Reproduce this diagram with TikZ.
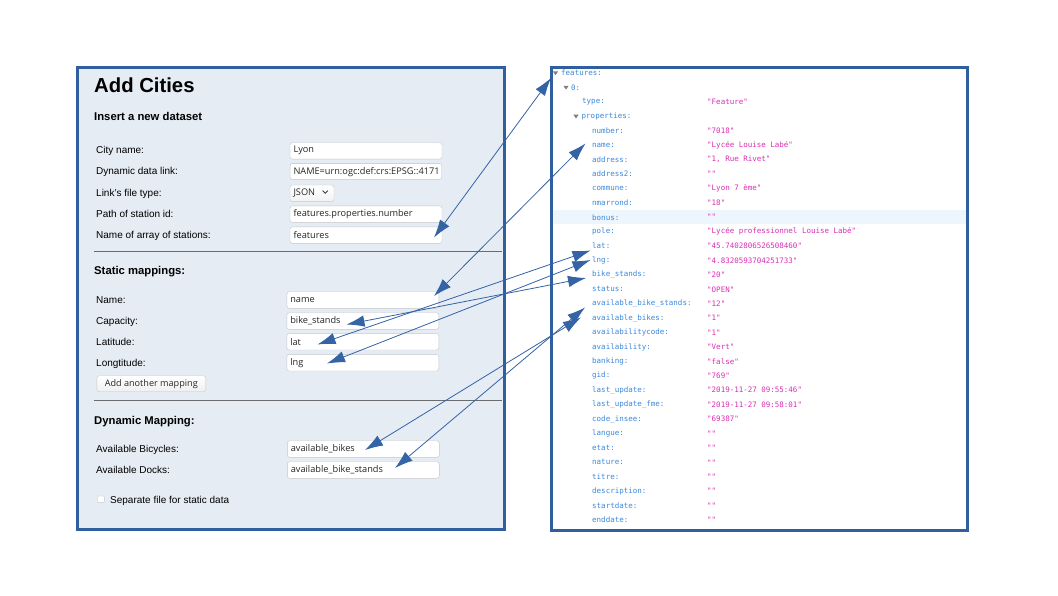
\documentclass[tikz,border=0pt]{standalone}
\usepackage{fontspec}
\setmainfont{Liberation Sans}
\newfontfamily\fieldfont{Open Sans}
\newfontfamily\jsonfont{DejaVu Sans Mono}
\usetikzlibrary{arrows.meta}
\definecolor{frameblue}{HTML}{2F5F9F}
\definecolor{arrowblue}{HTML}{3463A6}
\definecolor{panelbg}{HTML}{E5ECF3}
\definecolor{fieldborder}{HTML}{C4C7CB}
\definecolor{sepgray}{HTML}{6A6C70}
\definecolor{jkey}{HTML}{3A88DC}
\definecolor{jval}{HTML}{D92FB4}
\definecolor{jtri}{HTML}{808080}
\definecolor{rowhl}{HTML}{EEF6FD}
\tikzset{
  panel/.style={draw=frameblue, line width=3pt, anchor=north west, inner sep=0pt, outer sep=0pt},
  lbl/.style={anchor=base west, inner sep=0pt, font=\fontsize{10}{12}\selectfont},
  head/.style={anchor=base west, inner sep=0pt, font=\bfseries\fontsize{11.3}{13}\selectfont},
  field/.style={draw=fieldborder, fill=white, rounded corners=2.5pt, anchor=north west, outer sep=0pt,
    inner xsep=3.5pt, inner ysep=0pt, text width=145pt, minimum height=16.6pt, align=left,
    font=\fieldfont\fontsize{9.2}{11}\selectfont, text=black!85},
  btn/.style={draw=fieldborder, top color=white, bottom color=gray!12, rounded corners=2.5pt,
    anchor=north west, inner sep=0pt, outer sep=0pt, minimum width=109pt, minimum height=16pt,
    font=\fieldfont\fontsize{9.1}{11}\selectfont, text=black!85},
  sepline/.style={draw=sepgray, line width=1.3pt},
  jk/.style={anchor=west, inner sep=0pt, font=\jsonfont\fontsize{7.5}{9}\selectfont, text=jkey},
  jv/.style={anchor=west, inner sep=0pt, font=\jsonfont\fontsize{7.5}{9}\selectfont, text=jval},
  link/.style={draw=arrowblue, line width=0.8pt,
    {Latex[length=18pt,width=11.5pt]}-{Latex[length=18pt,width=11.5pt]}},
}
\newcommand{\jtriangle}[2]{\fill[jtri] (#1-2.6,#2-1.6) -- (#1+2.6,#2-1.6) -- (#1,#2+2.2) -- cycle;}
\begin{document}
\begin{tikzpicture}[x=1pt,y=-1pt]
\useasboundingbox (0,0) rectangle (1058,595);
\fill[white] (0,0) rectangle (1058,595);

% ---------------- left panel ----------------
\node[panel, fill=panelbg, minimum width=427pt, minimum height=461.5pt] (leftpanel) at (77.5,67.5) {};
\node[anchor=base west, inner sep=0pt, font=\bfseries\fontsize{20.3}{24}\selectfont] (title) at (94,92) {Add Cities};
\node[head] (hins) at (94,120.8) {Insert a new dataset};

\node[lbl] (lcity) at (96,153.8) {City name:};
\node[lbl] (ldyn)  at (96,174.8) {Dynamic data link:};
\node[lbl] (ltype) at (96,196) {Link's file type:};
\node[lbl] (lpath) at (96,217.5) {Path of station id:};
\node[lbl] (larr)  at (96,238.7) {Name of array of stations:};

\node[field] (fcity) at (290,142.5) {Lyon};
\begin{scope}
  \clip[rounded corners=2.5pt] (290,163.3) rectangle (441.7,179.6);
  \node[field, text width=160pt] (fdyn) at (290,163.3) {NAME=urn:ogc:def:crs:EPSG::4171};
\end{scope}
\draw[fieldborder, rounded corners=2.5pt] (290,163.3) rectangle (441.7,179.6);
\node[field, text width=37pt, top color=white, bottom color=gray!10] (ftype) at (290,185) {JSON};
\draw[black!75, line width=0.9pt] (322.6,190.6) -- (325.2,193.2) -- (327.8,190.6);
\node[field] (fpath) at (290,205.8) {features.properties.number};
\node[field] (farr)  at (290,226.8) {features};

\draw[sepline] (94,251.5) -- (502,251.5);
\node[head] (hstat) at (94,274.7) {Static mappings:};

\node[lbl] (lname) at (96,303.8) {Name:};
\node[lbl] (lcap)  at (96,324.8) {Capacity:};
\node[lbl] (llat)  at (96,345.5) {Latitude:};
\node[lbl] (llng)  at (96,366.5) {Longtitude:};

\node[field] (fname) at (286.8,291.7) {name};
\node[field] (fcap)  at (286.8,312.7) {bike\_stands};
\node[field] (flat)  at (286.8,333.4) {lat};
\node[field] (flng)  at (286.8,354.4) {lng};
\node[btn] (addmap) at (96.8,375.7) {Add another mapping};

\draw[sepline] (94,400.3) -- (502,400.3);
\node[head] (hdyn) at (94,424.7) {Dynamic Mapping:};

\node[lbl] (lbik) at (96,452.8) {Available Bicycles:};
\node[lbl] (ldoc) at (96,473.8) {Available Docks:};
\node[field] (fbik) at (287.3,440.7) {available\_bikes};
\node[field] (fdoc) at (287.3,461.7) {available\_bike\_stands};

\node[draw=fieldborder, fill=white, rounded corners=1pt, minimum size=6.6pt, inner sep=0pt, outer sep=0pt, anchor=north west] (chk) at (97.7,496) {};
\node[lbl] (lsep) at (110,503) {Separate file for static data};

% ---------------- right panel ----------------
\node[panel, fill=white, minimum width=416pt, minimum height=463pt] (rightpanel) at (551.5,67.5) {};
\fill[rowhl] (553,210) rectangle (966,224.4);

\jtriangle{555.5}{73}
\node[jk] (k0) at (561,73) {features:};
\jtriangle{566}{87.4}
\node[jk] (k1) at (571,87.4) {0:};
\node[jk] (k2) at (582,101.8) {type:};
\node[jv] (v2) at (707,101.8) {"Feature"};
\jtriangle{576}{116.3}
\node[jk] (k3) at (581.5,116.3) {properties:};

\foreach \i/\k/\v in {
  4/number:/{"7018"},
  5/name:/{"Lycée Louise Labé"},
  6/address:/{"1, Rue Rivet"},
  7/address2:/{""},
  8/commune:/{"Lyon 7 ème"},
  9/nmarrond:/{"18"},
  10/bonus:/{""},
  11/pole:/{"Lycée professionnel Louise Labé"},
  12/lat:/{"45.7402806526508460"},
  13/lng:/{"4.8320593704251733"},
  14/bike\_stands:/{"20"},
  15/status:/{"OPEN"},
  16/available\_bike\_stands:/{"12"},
  17/available\_bikes:/{"1"},
  18/availabilitycode:/{"1"},
  19/availability:/{"Vert"},
  20/banking:/{"false"},
  21/gid:/{"769"},
  22/last\_update:/{"2019-11-27 09:55:46"},
  23/last\_update\_fme:/{"2019-11-27 09:58:01"},
  24/code\_insee:/{"69387"},
  25/langue:/{""},
  26/etat:/{""},
  27/nature:/{""},
  28/titre:/{""},
  29/description:/{""},
  30/startdate:/{""},
  31/enddate:/{""}}{
  \node[jk] (k\i) at (592,73+14.42*\i) {\k};
  \node[jv] (v\i) at (707,73+14.42*\i) {\v};
}

% ---------------- connectors ----------------
\coordinate (aArrF) at (434,237.5);
\coordinate (aFeatJ) at (551,78);
\coordinate (aNameF) at (434,296);
\coordinate (aNameJ) at (585.5,143.5);
\coordinate (aCapF) at (346.5,324.5);
\coordinate (aCapJ) at (586,278);
\coordinate (aLatF) at (317.5,344.5);
\coordinate (aLatJ) at (590.5,250.5);
\coordinate (aLngF) at (327,363.5);
\coordinate (aLngJ) at (590.5,260);
\coordinate (aBikF) at (365,450);
\coordinate (aBikJ) at (581,317.5);
\coordinate (aDocF) at (395,468);
\coordinate (aDocJ) at (585,307.5);

\draw[link] (aArrF) -- (aFeatJ);
\draw[link] (aNameF) -- (aNameJ);
\draw[link] (aCapF) -- (aCapJ);
\draw[link] (aLatF) -- (aLatJ);
\draw[link] (aLngF) -- (aLngJ);
\draw[link] (aBikF) -- (aBikJ);
\draw[link] (aDocF) -- (aDocJ);
\end{tikzpicture}
\end{document}
